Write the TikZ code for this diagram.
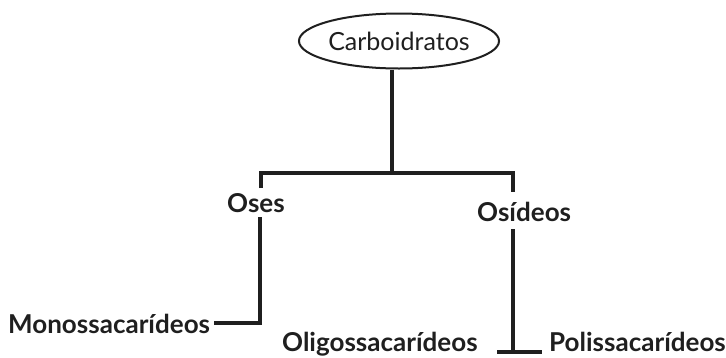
\documentclass[tikz,border=0pt]{standalone}
\usepackage{fontspec}
\setmainfont{Lato}
\usetikzlibrary{shapes.geometric}
\begin{document}
\begin{tikzpicture}[x=1pt,y=-1pt,
  lbl/.style={inner sep=0pt, anchor=base west, font=\fontsize{26}{28}\selectfont\bfseries, text=black!88},
  conn/.style={line width=3.2pt, draw=black!88},
  oval/.style={ellipse, draw=black!88, line width=2pt, minimum width=174pt, minimum height=55pt, inner sep=0pt, font=\fontsize{25}{27}\selectfont, text=black!88}]
\useasboundingbox (0,0) rectangle (726,357);
\node[oval] (carb) at (399,41) {Carboidratos};
\node[lbl] (oses) at (227,212) {Oses};
\node[lbl] (osid) at (477,221) {Osídeos};
\node[lbl] (mono) at (8,333) {Monossacarídeos};
\node[lbl] (olig) at (282,351) {Oligossacarídeos};
\node[lbl] (poli) at (549,351) {Polissacarídeos};
\coordinate (top) at (392,69);
\coordinate (hj) at (392,173);
\coordinate (lj) at (261,173);
\coordinate (rj) at (513,173);
\coordinate (ls) at (261,188);
\coordinate (rs) at (513,192);
\coordinate (lt) at (260,217);
\coordinate (lb) at (260,323);
\coordinate (rt) at (513,229);
\coordinate (rb) at (513,352);
\coordinate (ml) at (214,323);
\coordinate (bl) at (497,352);
\coordinate (br) at (542,352);
\draw[conn] (carb.south -| top) -- (hj);
\draw[conn] (ls) -- (lj) -- (rj) -- (rs);
\draw[conn] (lt) -- (lb) -- (ml);
\draw[conn] (rt) -- (rb);
\draw[conn] (bl) -- (br);
\end{tikzpicture}
\end{document}
